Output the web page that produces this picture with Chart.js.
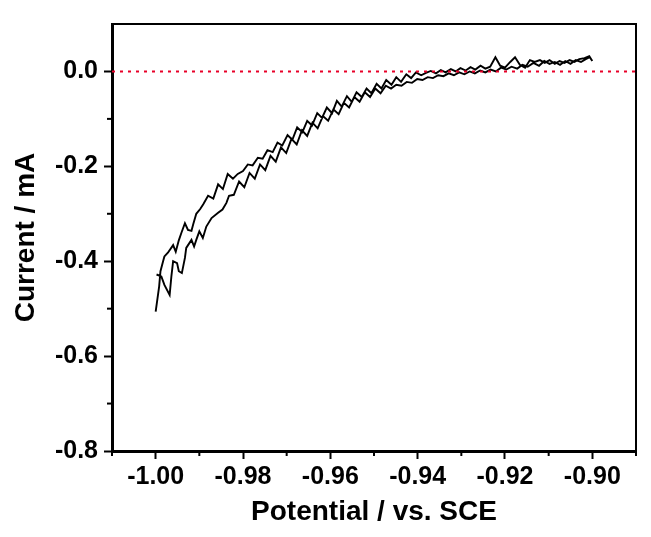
<!DOCTYPE html>
<html lang="en">
    <head>
        <meta charset="UTF-8">
        <title>Current vs Potential</title>
        <script src="https://cdn.jsdelivr.net/npm/chart.js"></script>
        <style>
            body { margin: 0; background: #fff; }
            #cvChart { display: block; }
        </style>
    </head>
    <body>
        <canvas id="cvChart" width="651" height="537"></canvas>

        <script>
            // Axis ranges and tick steps
            const xRange = [-1.01, -0.89];
            const yRange = [-0.8, 0.1];
            const xStep = 0.01;
            const yStep = 0.1;

            // Forward scan (upper branch), potential in V vs. SCE / current in mA
            const fwdPotential = [-1.0000, -0.9992, -0.9989, -0.9983, -0.9980, -0.9972, -0.9960, -0.9954, -0.9947, -0.9941,
                -0.9933, -0.9926, -0.9918, -0.9914, -0.9907, -0.9898, -0.9891, -0.9880, -0.9868, -0.9857,
                -0.9846, -0.9835, -0.9823, -0.9812, -0.9800, -0.9789, -0.9778, -0.9766, -0.9755, -0.9744,
                -0.9732, -0.9721, -0.9710, -0.9698, -0.9687, -0.9676, -0.9664, -0.9653, -0.9642, -0.9630,
                -0.9619, -0.9608, -0.9596, -0.9585, -0.9574, -0.9562, -0.9551, -0.9540, -0.9528, -0.9517,
                -0.9506, -0.9494, -0.9483, -0.9472, -0.9460, -0.9449, -0.9438, -0.9426, -0.9415, -0.9404,
                -0.9392, -0.9381, -0.9370, -0.9358, -0.9347, -0.9336, -0.9324, -0.9313, -0.9302, -0.9290,
                -0.9279, -0.9268, -0.9256, -0.9245, -0.9234, -0.9222, -0.9211, -0.9200, -0.9188, -0.9177,
                -0.9166, -0.9154, -0.9143, -0.9132, -0.9120, -0.9109, -0.9098, -0.9086, -0.9075, -0.9064,
                -0.9052, -0.9041, -0.9030, -0.9018, -0.9007, -0.9000];
            const fwdCurrent = [-0.506, -0.453, -0.421, -0.400, -0.390, -0.382, -0.366, -0.380, -0.356, -0.340,
                -0.320, -0.334, -0.336, -0.322, -0.300, -0.290, -0.280, -0.262, -0.268, -0.238,
                -0.248, -0.216, -0.226, -0.216, -0.210, -0.196, -0.198, -0.182, -0.184, -0.166,
                -0.170, -0.150, -0.156, -0.134, -0.144, -0.118, -0.128, -0.104, -0.114, -0.088,
                -0.098, -0.076, -0.088, -0.062, -0.074, -0.052, -0.064, -0.044, -0.054, -0.036,
                -0.046, -0.026, -0.036, -0.018, -0.028, -0.012, -0.022, -0.006, -0.014, -0.002,
                -0.008, -0.003, 0.001, -0.004, 0.003, -0.002, 0.005, 0.000, 0.007, 0.002,
                0.009, 0.004, 0.012, 0.006, 0.010, 0.030, 0.012, 0.008, 0.020, 0.030,
                0.014, 0.008, 0.024, 0.020, 0.024, 0.018, 0.024, 0.016, 0.022, 0.018,
                0.024, 0.020, 0.026, 0.028, 0.032, 0.022];

            // Reverse scan (lower branch)
            const revPotential = [-0.9000, -0.9006, -0.9015, -0.9026, -0.9038, -0.9050, -0.9062, -0.9074, -0.9086, -0.9098,
                -0.9110, -0.9122, -0.9135, -0.9148, -0.9160, -0.9172, -0.9185, -0.9197, -0.9209, -0.9221,
                -0.9233, -0.9245, -0.9257, -0.9269, -0.9281, -0.9293, -0.9305, -0.9317, -0.9329, -0.9341,
                -0.9353, -0.9365, -0.9377, -0.9389, -0.9401, -0.9413, -0.9425, -0.9437, -0.9449, -0.9461,
                -0.9473, -0.9485, -0.9497, -0.9509, -0.9521, -0.9533, -0.9545, -0.9557, -0.9569, -0.9581,
                -0.9593, -0.9605, -0.9617, -0.9629, -0.9641, -0.9653, -0.9665, -0.9677, -0.9689, -0.9701,
                -0.9713, -0.9725, -0.9737, -0.9749, -0.9761, -0.9773, -0.9785, -0.9797, -0.9809, -0.9821,
                -0.9832, -0.9838, -0.9847, -0.9857, -0.9872, -0.9884, -0.9892, -0.9900, -0.9907, -0.9912,
                -0.9918, -0.9930, -0.9933, -0.9940, -0.9947, -0.9951, -0.9960, -0.9964, -0.9968, -0.9980,
                -0.9987, -0.9998];
            const revCurrent = [0.022, 0.030, 0.026, 0.020, 0.024, 0.016, 0.022, 0.014, 0.020, 0.016,
                0.022, 0.012, 0.018, 0.010, 0.014, 0.006, 0.010, 0.004, 0.008, 0.000,
                0.004, -0.002, 0.002, -0.004, 0.000, -0.006, -0.002, -0.008, -0.004, -0.010,
                -0.008, -0.014, -0.012, -0.018, -0.016, -0.024, -0.022, -0.030, -0.028, -0.036,
                -0.030, -0.046, -0.036, -0.054, -0.044, -0.064, -0.054, -0.076, -0.066, -0.090,
                -0.080, -0.104, -0.094, -0.120, -0.108, -0.136, -0.124, -0.154, -0.142, -0.172,
                -0.160, -0.190, -0.178, -0.208, -0.196, -0.226, -0.214, -0.244, -0.232, -0.260,
                -0.262, -0.277, -0.291, -0.298, -0.309, -0.327, -0.351, -0.337, -0.355, -0.369,
                -0.355, -0.372, -0.393, -0.425, -0.421, -0.404, -0.400, -0.432, -0.471, -0.450,
                -0.432, -0.428];

            const fontFamily = '"Liberation Sans", Arial, sans-serif';

            const isMajorX = v => Math.round(v * 100) % 2 === 0;
            const isMajorY = v => Math.round(v * 10) % 2 === 0 && v < 0.05;

            const loop = fwdPotential.map((e, i) => ({ x: e, y: fwdCurrent[i] }))
                .concat(revPotential.map((e, i) => ({ x: e, y: revCurrent[i] })));

            // Top/right frame and the short minor ticks
            const frameAndMinor = {
                id: 'frameAndMinor',
                afterDraw(chart) {
                    const ctx = chart.ctx;
                    const a = chart.chartArea;
                    ctx.save();
                    ctx.strokeStyle = '#000';
                    ctx.lineWidth = 2;
                    ctx.beginPath();
                    ctx.moveTo(a.left, a.top);
                    ctx.lineTo(a.right, a.top);
                    ctx.lineTo(a.right, a.bottom);
                    ctx.stroke();
                    chart.scales.x.ticks.forEach(t => {
                        if (isMajorX(t.value)) return;
                        const px = chart.scales.x.getPixelForValue(t.value);
                        ctx.beginPath();
                        ctx.moveTo(px, a.bottom);
                        ctx.lineTo(px, a.bottom + 5);
                        ctx.stroke();
                    });
                    chart.scales.y.ticks.forEach(t => {
                        if (isMajorY(t.value) || t.value > 0.05) return;
                        const py = chart.scales.y.getPixelForValue(t.value);
                        ctx.beginPath();
                        ctx.moveTo(a.left, py);
                        ctx.lineTo(a.left - 5, py);
                        ctx.stroke();
                    });
                    ctx.restore();
                }
            };

            new Chart(document.getElementById('cvChart').getContext('2d'), {
                type: 'scatter',
                data: {
                    datasets: [
                        {
                            data: [{ x: xRange[0], y: 0 }, { x: xRange[1], y: 0 }],
                            showLine: true,
                            borderColor: 'rgb(232, 0, 40)',
                            borderWidth: 2,
                            borderDash: [3, 5],
                            pointRadius: 0
                        },
                        {
                            data: loop,
                            showLine: true,
                            borderColor: '#000',
                            borderWidth: 1.9,
                            pointRadius: 0,
                            tension: 0
                        }
                    ]
                },
                options: {
                    responsive: false,
                    animation: false,
                    devicePixelRatio: 1,
                    layout: { padding: { left: 0, top: 24, right: 15, bottom: 0 } },
                    plugins: { legend: { display: false }, tooltip: { enabled: false } },
                    scales: {
                        x: {
                            type: 'linear',
                            min: xRange[0],
                            max: xRange[1],
                            afterFit: s => { s.height = 86; },
                            border: { display: true, color: '#000', width: 3 },
                            grid: {
                                drawOnChartArea: false,
                                tickLength: 8,
                                tickWidth: 2,
                                tickColor: c => (c.tick && isMajorX(c.tick.value)) ? '#000' : 'rgba(0,0,0,0)'
                            },
                            ticks: {
                                stepSize: xStep,
                                autoSkip: false,
                                maxRotation: 0,
                                padding: 3,
                                color: '#000',
                                font: { family: fontFamily, size: 25, weight: 'bold' },
                                callback: v => isMajorX(v) ? (Math.round(v * 100) / 100).toFixed(2) : ''
                            },
                            title: {
                                display: true,
                                text: 'Potential / vs. SCE',
                                color: '#000',
                                font: { family: fontFamily, size: 28, weight: 'bold' },
                                padding: { top: 0, bottom: 8 }
                            }
                        },
                        y: {
                            min: yRange[0],
                            max: yRange[1],
                            afterFit: s => { s.width = 112; },
                            border: { display: true, color: '#000', width: 3 },
                            grid: {
                                drawOnChartArea: false,
                                tickLength: 8,
                                tickWidth: 2,
                                tickColor: c => (c.tick && isMajorY(c.tick.value)) ? '#000' : 'rgba(0,0,0,0)'
                            },
                            ticks: {
                                stepSize: yStep,
                                autoSkip: false,
                                padding: 6,
                                color: '#000',
                                font: { family: fontFamily, size: 25, weight: 'bold' },
                                callback: v => isMajorY(v) ? (Math.round(v * 10) / 10).toFixed(1) : ''
                            },
                            title: {
                                display: true,
                                text: 'Current / mA',
                                color: '#000',
                                font: { family: fontFamily, size: 28, weight: 'bold' },
                                padding: { top: 9, bottom: 0 }
                            }
                        }
                    }
                },
                plugins: [frameAndMinor]
            });
        </script>
    </body>
</html>
